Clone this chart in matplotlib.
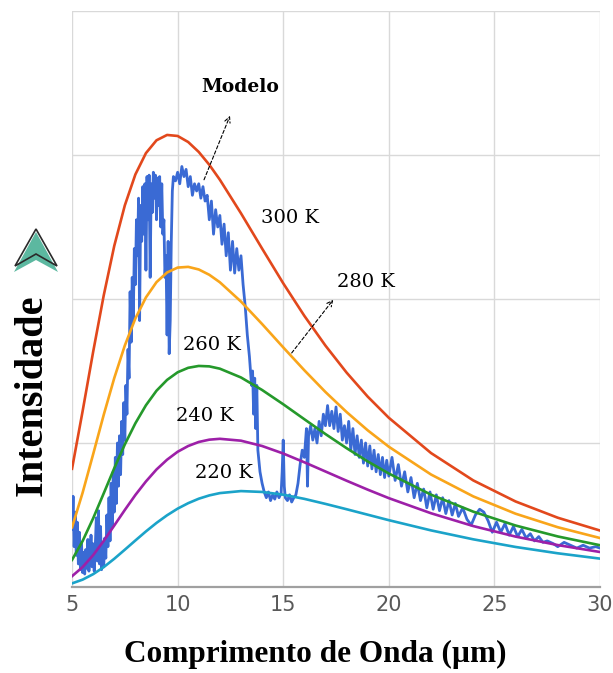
import matplotlib
matplotlib.use('Agg')
import matplotlib.pyplot as plt
from matplotlib.patches import Polygon

# model curves, wavelength in um
wl = [5, 5.5, 6, 6.5, 7, 7.5, 8, 8.5, 9, 9.5, 10, 10.5, 11, 11.5, 12,
      13, 14, 15, 16, 17, 18, 19, 20, 22, 24, 26, 28, 30]
t300 = [0.821, 1.220, 1.633, 2.024, 2.369, 2.650, 2.865, 3.013, 3.102, 3.139,
        3.132, 3.090, 3.021, 2.932, 2.828, 2.595, 2.350, 2.109, 1.883, 1.676,
        1.489, 1.322, 1.175, 0.930, 0.740, 0.594, 0.481, 0.392]
t280 = [0.414, 0.654, 0.922, 1.195, 1.451, 1.677, 1.865, 2.011, 2.117, 2.184,
        2.218, 2.223, 2.205, 2.168, 2.116, 1.982, 1.826, 1.664, 1.505, 1.354,
        1.215, 1.088, 0.974, 0.781, 0.629, 0.509, 0.415, 0.340]
t260 = [0.188, 0.319, 0.477, 0.650, 0.825, 0.990, 1.137, 1.262, 1.363, 1.438,
        1.491, 1.522, 1.535, 1.532, 1.516, 1.455, 1.368, 1.269, 1.165, 1.062,
        0.964, 0.872, 0.788, 0.641, 0.523, 0.427, 0.351, 0.290]
t240 = [0.075, 0.138, 0.221, 0.320, 0.427, 0.535, 0.639, 0.733, 0.816, 0.884,
        0.939, 0.979, 1.007, 1.023, 1.029, 1.016, 0.979, 0.927, 0.866, 0.802,
        0.738, 0.676, 0.617, 0.512, 0.423, 0.350, 0.291, 0.243]
t220 = [0.025, 0.051, 0.089, 0.138, 0.196, 0.259, 0.323, 0.386, 0.445, 0.498,
        0.544, 0.582, 0.613, 0.636, 0.652, 0.666, 0.660, 0.641, 0.612, 0.577,
        0.540, 0.502, 0.464, 0.393, 0.331, 0.278, 0.234, 0.197]

# measured spectrum (blue)
spec_wl = [5.00, 5.05, 5.10, 5.15, 5.20, 5.25, 5.30, 5.35, 5.40, 5.45,
           5.50, 5.55, 5.60, 5.65, 5.70, 5.75, 5.80, 5.85, 5.90, 5.95,
           6.00, 6.05, 6.10, 6.15, 6.20, 6.25, 6.30, 6.35, 6.40, 6.45,
           6.50, 6.55, 6.60, 6.65, 6.70, 6.75, 6.80, 6.85, 6.90, 6.95,
           7.00, 7.05, 7.10, 7.15, 7.20, 7.25, 7.30, 7.35, 7.40, 7.45,
           7.50, 7.55, 7.60, 7.65, 7.70, 7.75, 7.80, 7.85, 7.90, 7.95,
           8.00, 8.05, 8.10, 8.15, 8.20, 8.25, 8.30, 8.35, 8.40, 8.45,
           8.50, 8.55, 8.60, 8.65, 8.70, 8.75, 8.80, 8.85, 8.90, 8.95,
           9.00, 9.05, 9.10, 9.15, 9.20, 9.25, 9.30, 9.35, 9.40, 9.45,
           9.50, 9.55, 9.60, 9.65, 9.70, 9.75, 9.80, 9.90, 10.0, 10.1,
           10.2, 10.3, 10.4, 10.5, 10.6, 10.7, 10.8, 10.9, 11.0, 11.1,
           11.2, 11.3, 11.4, 11.5, 11.6, 11.7, 11.8, 11.9, 12.0, 12.1,
           12.2, 12.3, 12.4, 12.5, 12.6, 12.7, 12.8, 12.9, 13.0, 13.1,
           13.2, 13.3, 13.4, 13.5, 13.55, 13.6, 13.65, 13.7, 13.75, 13.8,
           13.9, 14.0, 14.1, 14.2, 14.3, 14.4, 14.5, 14.6, 14.7, 14.8,
           14.9, 14.95, 15.0, 15.05, 15.1, 15.2, 15.3, 15.4, 15.5, 15.6,
           15.7, 15.8, 15.9, 16.0, 16.1, 16.15, 16.2, 16.3, 16.4, 16.5,
           16.6, 16.7, 16.8, 16.9, 17.0, 17.1, 17.2, 17.3, 17.4, 17.5,
           17.6, 17.7, 17.8, 17.9, 18.0, 18.1, 18.2, 18.3, 18.4, 18.5,
           18.6, 18.7, 18.8, 18.9, 19.0, 19.1, 19.2, 19.3, 19.4, 19.5,
           19.6, 19.7, 19.8, 19.9, 20.0, 20.15, 20.3, 20.45, 20.6, 20.75,
           20.9, 21.05, 21.2, 21.35, 21.5, 21.65, 21.8, 21.95, 22.1, 22.25,
           22.4, 22.55, 22.7, 22.85, 23.0, 23.15, 23.3, 23.5, 23.7, 23.9,
           24.1, 24.3, 24.5, 24.7, 24.9, 25.1, 25.3, 25.5, 25.7, 25.9,
           26.1, 26.3, 26.5, 26.7, 26.9, 27.1, 27.3, 27.5, 27.8, 28.0,
           28.3, 28.6, 28.9, 29.2, 29.5, 29.8, 30.0]
spec_val = [0.40, 0.63, 0.28, 0.52, 0.22, 0.45, 0.16, 0.38, 0.12, 0.30,
            0.10, 0.24, 0.09, 0.26, 0.13, 0.33, 0.11, 0.22, 0.36, 0.14,
            0.30, 0.11, 0.28, 0.48, 0.18, 0.53, 0.16, 0.42, 0.12, 0.30,
            0.14, 0.34, 0.20, 0.50, 0.28, 0.62, 0.32, 0.72, 0.42, 0.80,
            0.52, 0.90, 0.58, 1.00, 0.70, 1.05, 0.78, 1.15, 0.92, 1.28,
            1.02, 1.40, 1.20, 1.65, 1.45, 2.05, 1.70, 2.15, 1.85, 2.35,
            2.10, 2.55, 2.30, 2.70, 1.85, 2.65, 2.40, 2.78, 2.45, 2.80,
            2.20, 2.85, 2.55, 2.86, 2.15, 2.80, 2.60, 2.88, 2.70, 2.86,
            2.55, 2.84, 2.65, 2.85, 2.50, 2.80, 2.45, 2.55, 2.15, 2.30,
            1.75, 2.40, 1.62, 1.85, 2.40, 2.75, 2.85, 2.82, 2.88, 2.80,
            2.92, 2.85, 2.90, 2.78, 2.85, 2.72, 2.80, 2.75, 2.80, 2.70,
            2.78, 2.68, 2.72, 2.55, 2.68, 2.45, 2.62, 2.50, 2.58, 2.38,
            2.52, 2.30, 2.46, 2.20, 2.40, 2.18, 2.35, 2.20, 2.30, 2.10,
            1.95, 1.75, 1.60, 1.40, 1.50, 1.20, 1.45, 1.10, 1.40, 0.95,
            0.80, 0.72, 0.66, 0.62, 0.66, 0.60, 0.64, 0.61, 0.66, 0.62,
            0.65, 0.80, 1.02, 0.70, 0.62, 0.60, 0.64, 0.59, 0.62, 0.64,
            0.72, 0.85, 0.95, 0.90, 1.10, 0.70, 1.05, 1.12, 1.02, 1.10,
            1.00, 1.15, 1.05, 1.20, 1.12, 1.26, 1.12, 1.22, 1.10, 1.25,
            1.08, 1.20, 1.02, 1.12, 1.00, 1.15, 0.95, 1.10, 0.92, 1.05,
            0.90, 1.02, 0.86, 1.00, 0.84, 0.98, 0.82, 0.95, 0.80, 0.92,
            0.78, 0.90, 0.76, 0.88, 0.77, 0.90, 0.74, 0.85, 0.70, 0.80,
            0.66, 0.76, 0.62, 0.72, 0.60, 0.68, 0.55, 0.66, 0.54, 0.64,
            0.53, 0.62, 0.51, 0.60, 0.50, 0.58, 0.49, 0.55, 0.47, 0.43,
            0.50, 0.54, 0.52, 0.46, 0.38, 0.45, 0.38, 0.44, 0.36, 0.42,
            0.35, 0.40, 0.34, 0.37, 0.32, 0.35, 0.31, 0.32, 0.30, 0.28,
            0.31, 0.29, 0.27, 0.29, 0.27, 0.28, 0.27]

serif = ['Liberation Serif', 'DejaVu Serif']
serif2 = ['DejaVu Serif']

fig = plt.figure(figsize=(6.13, 6.73), dpi=100)
ax = fig.add_axes([0.1175, 0.1278, 0.8613, 0.8559])

ax.plot(spec_wl, spec_val, color='#3a6ad4', lw=2.0, zorder=2)
curves = [(t300, '#e2481c'), (t280, '#f9a51a'), (t260, '#25992b'),
          (t240, '#9d20a8'), (t220, '#1ba3c9')]
for vals, c in curves:
    ax.plot(wl, vals, color=c, lw=1.9, zorder=3)

ax.set_xlim(5, 30)
ax.set_ylim(0, 4)
ax.set_xticks([5, 10, 15, 20, 25, 30])
ax.set_yticks([0, 1, 2, 3, 4])
ax.set_yticklabels([])
ax.grid(color='#d9d9d9', lw=1)
ax.set_axisbelow(True)
ax.tick_params(length=0, labelsize=15, colors='#595959', pad=6)
for s in ['top', 'right', 'left']:
    ax.spines[s].set_visible(False)
ax.spines['bottom'].set_color('#a0a0a0')
ax.spines['bottom'].set_linewidth(1.6)

# labels on the curves
ax.text(12.95, 3.47, 'Modelo', family=serif2, fontweight='bold', fontsize=13.5,
        ha='center', va='center')
ax.annotate('', xy=(12.53, 3.29), xytext=(11.2, 2.81),
            arrowprops=dict(arrowstyle='->', lw=0.8, ls=(0, (3, 2)), color='black'))
ax.annotate('', xy=(17.45, 2.01), xytext=(15.32, 1.61),
            arrowprops=dict(arrowstyle='->', lw=0.8, ls=(0, (3, 2)), color='black'))
temp_labels = [('300 K', 15.3, 2.56), ('280 K', 18.92, 2.12), ('260 K', 11.63, 1.68),
               ('240 K', 11.30, 1.19), ('220 K', 12.2, 0.79)]
for txt, x, y in temp_labels:
    ax.text(x, y, txt, family=serif2, fontsize=14, ha='center', va='center')

fig.text(0.515, 0.027, 'Comprimento de Onda (\u00b5m)', family=serif,
         fontweight='bold', fontsize=22.5, ha='center', va='center')
fig.text(0.052, 0.413, 'Intensidade', family=serif, fontweight='bold',
         fontsize=29, rotation=90, ha='center', va='center')

# arrow icon above the y label
W, H = 613.0, 673.0
def fpts(pts):
    return [(x / W, 1 - y / H) for x, y in pts]
fig.patches.append(Polygon(fpts([(36, 232), (58, 272), (36, 260), (14, 272)]),
                           closed=True, facecolor='#5cb8a0', edgecolor='none',
                           transform=fig.transFigure))
fig.patches.append(Polygon(fpts([(36, 229), (57, 266), (36, 254), (15, 266)]),
                           closed=True, facecolor='none', edgecolor='#2a2a2a',
                           lw=1.2, transform=fig.transFigure))

fig.savefig('out.png', dpi=100)
